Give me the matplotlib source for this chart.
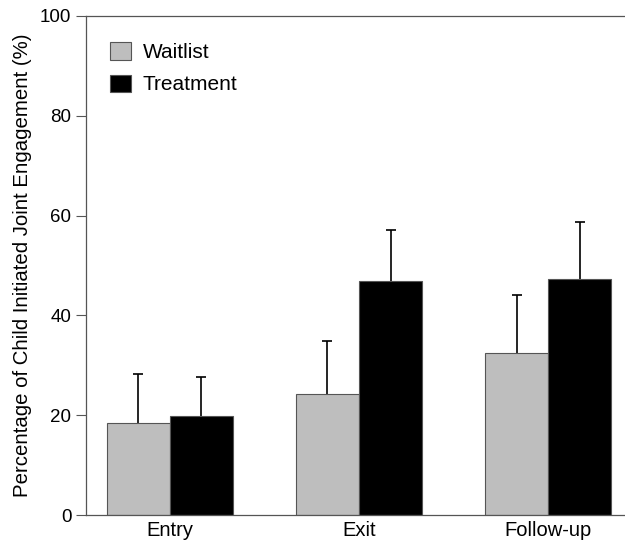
import matplotlib.pyplot as plt
import numpy as np

plt.rcParams['font.family'] = ['Liberation Sans', 'DejaVu Sans']

# data
phases = ['Entry', 'Exit', 'Follow-up']
waitlist = [18.5, 24.2, 32.5]
waitlist_err = [9.7, 10.6, 11.5]
treatment = [19.9, 46.8, 47.2]
treatment_err = [7.7, 10.4, 11.6]

fig = plt.figure(figsize=(6.25, 5.42), dpi=100)
ax = fig.add_axes([0.1376, 0.0498, 0.8624, 0.9207])

x = np.arange(len(phases))
width = 1/3
edge = '#555555'

ax.bar(x - width/2, waitlist, width=width, color='#bebebe', edgecolor=edge,
       linewidth=0.8, label='Waitlist', zorder=2)
ax.bar(x + width/2, treatment, width=width, color='black', edgecolor=edge,
       linewidth=0.8, label='Treatment', zorder=2)

# upward-only error bars, hide the cap at the bar top
for xs, vals, errs in [(x - width/2, waitlist, waitlist_err),
                       (x + width/2, treatment, treatment_err)]:
    eb = ax.errorbar(xs, vals, yerr=[np.zeros(len(vals)), errs], fmt='none',
                     ecolor='black', elinewidth=1.2, capsize=3.5, capthick=1.2, zorder=1)
    eb[1][0].set_visible(False)

ax.set_xlim(-0.444, 2.407)
ax.set_ylim(0, 100)
ax.set_yticks(np.arange(0, 101, 20))
ax.set_xticks(x)
ax.set_xticklabels(phases, fontsize=14.5)
ax.tick_params(axis='y', labelsize=13.5, length=7, width=0.8, color=edge, direction='out')
ax.tick_params(axis='x', length=0, pad=4)

ax.spines['right'].set_visible(False)
for s in ['left', 'top', 'bottom']:
    ax.spines[s].set_color(edge)
    ax.spines[s].set_linewidth(0.9)

ax.set_ylabel('Percentage of Child Initiated Joint Engagement (%)', fontsize=14.7, labelpad=6)

ax.legend(loc='upper left', bbox_to_anchor=(0.01, 0.985), frameon=False, fontsize=15,
          handlelength=1.0, handleheight=0.9, handletextpad=0.55, labelspacing=0.6)

fig.savefig('out.png', dpi=100)
